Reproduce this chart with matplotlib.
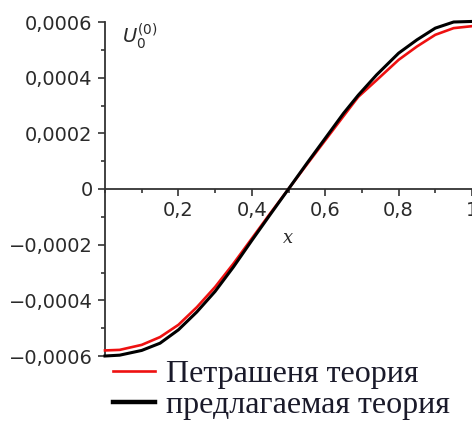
import matplotlib
matplotlib.use("Agg")
import matplotlib.pyplot as plt
from matplotlib.ticker import FixedLocator, FixedFormatter, MultipleLocator

# ---- data ----
x_vals = [0.0, 0.04, 0.1, 0.15, 0.2, 0.25, 0.3, 0.35, 0.4, 0.45, 0.5,
          0.55, 0.6, 0.65, 0.69, 0.74, 0.8, 0.85, 0.9, 0.95, 1.0]
petrashen = [-0.000580, -0.000578, -0.000560, -0.000532, -0.000488, -0.000425,
             -0.000352, -0.000268, -0.000178, -0.000088, 0.0,
             0.000088, 0.000175, 0.000262, 0.000331, 0.000391, 0.000464,
             0.000512, 0.000554, 0.000578, 0.000585]
proposed = [-0.000600, -0.000597, -0.000580, -0.000554, -0.000506, -0.000442,
            -0.000368, -0.000280, -0.000185, -0.000092, 0.0,
            0.000092, 0.000182, 0.000272, 0.000337, 0.000410, 0.000488,
            0.000536, 0.000578, 0.000600, 0.000602]

x_ticks = [0.2, 0.4, 0.6, 0.8, 1.0]
x_tick_labels = ["0,2", "0,4", "0,6", "0,8", "1"]
y_ticks = [-0.0006, -0.0004, -0.0002, 0.0, 0.0002, 0.0004, 0.0006]
y_tick_labels = ["\u22120,0006", "\u22120,0004", "\u22120,0002", "0",
                 "0,0002", "0,0004", "0,0006"]

label_red = "Петрашеня теория"
label_black = "предлагаемая теория"

# ---- figure ----
W, H = 472, 421
fig = plt.figure(figsize=(W / 100, H / 100), dpi=100)
left, right = 105 / W, 472 / W
top, bottom = 1 - 22 / H, 1 - 356 / H
ax = fig.add_axes([left, bottom, right - left, top - bottom])

axis_col = "#333333"
ln_red, = ax.plot(x_vals, petrashen, color="#ee1111", lw=1.9, clip_on=False,
                  zorder=3, solid_joinstyle="round")
ln_blk, = ax.plot(x_vals, proposed, color="black", lw=2.2, clip_on=False,
                  zorder=4, solid_joinstyle="round")

ax.set_xlim(0, 1.0)
ax.set_ylim(-0.0006, 0.0006)

for s in ("top", "right"):
    ax.spines[s].set_visible(False)
ax.spines["bottom"].set_position(("data", 0))
ax.spines["left"].set_position(("data", 0))
for s in ("bottom", "left"):
    ax.spines[s].set_color(axis_col)
    ax.spines[s].set_linewidth(1.3)

ax.xaxis.set_major_locator(FixedLocator(x_ticks))
ax.xaxis.set_major_formatter(FixedFormatter(x_tick_labels))
ax.xaxis.set_minor_locator(MultipleLocator(0.1))
ax.yaxis.set_major_locator(FixedLocator(y_ticks))
ax.yaxis.set_major_formatter(FixedFormatter(y_tick_labels))
ax.yaxis.set_minor_locator(MultipleLocator(0.0001))

ax.tick_params(axis="both", which="major", direction="out", length=5, width=1.2,
               color=axis_col, labelcolor="#2a2a2a", labelsize=14)
ax.tick_params(axis="both", which="minor", direction="out", length=3, width=1.2,
               color=axis_col)
ax.tick_params(axis="x", which="major", pad=4)
ax.tick_params(axis="y", which="major", pad=4)

# axis labels
ax.text(0.5, -0.000175, "x", fontsize=13, style="italic", family="DejaVu Serif",
        ha="center", va="center", color="#2a2a2a")
ax.text(0.045, 0.00055, r"$U_0^{(0)}$", fontsize=14, ha="left", va="center",
        color="#2a2a2a")

leg = fig.legend([ln_red, ln_blk], [label_red, label_black],
                 loc="upper left", bbox_to_anchor=(113 / W, 1 - 360 / H),
                 frameon=False, prop={"family": "Liberation Serif", "size": 23},
                 handlelength=1.3, handletextpad=0.37, labelspacing=0.04,
                 borderpad=0, borderaxespad=0)
leg.legend_handles[1].set_linewidth(3.2)
for t in leg.get_texts():
    t.set_color("#1a1a2a")

fig.savefig("out.png", dpi=100)
